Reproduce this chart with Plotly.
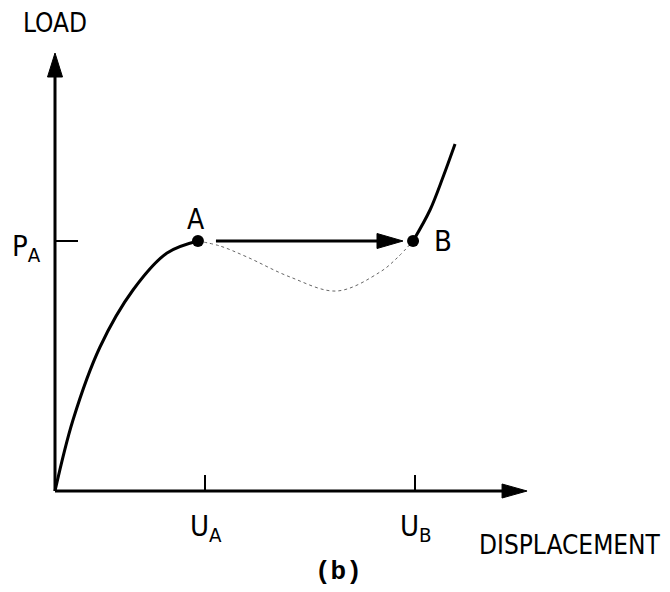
import plotly.graph_objects as go

# ---- data (u = displacement, p = load; normalized so U_A = 1, P_A = 1) ----
load_u = [0.0, 0.12, 0.30, 0.52, 0.747, 0.953]
load_p = [0.0, 0.284, 0.576, 0.804, 0.952, 1.0]

unstable_u = [0.953, 1.10, 1.28, 1.567, 1.88, 2.167, 2.28, 2.387]
unstable_p = [1.0, 0.98, 0.936, 0.856, 0.80, 0.876, 0.932, 1.0]

stiff_u = [2.387, 2.50, 2.587, 2.667]
stiff_p = [1.0, 1.124, 1.256, 1.388]

point_names = ["A", "B"]
point_u = [0.953, 2.387]
point_p = [1.0, 1.0]

tick_u = [1.0, 2.4]
tick_u_labels = ["U<sub>A</sub>", "U<sub>B</sub>"]
tick_p = [1.0]
tick_p_labels = ["P<sub>A</sub>"]

x_axis_end = 3.147
y_axis_end = 1.752
jump_start = 1.073
jump_end = 2.32

# ---- pixel scale helpers (page body has an 8px margin) ----
PAGE_OFF = 8
W, H = 670 - PAGE_OFF, 592 - PAGE_OFF
X0PX, Y0PX = 55 - PAGE_OFF, 491 - PAGE_OFF
SX, SY = 150.0, 250.0
xr = [(0 - X0PX) / SX, (W - X0PX) / SX]
yr = [(Y0PX - H) / SY, (Y0PX - 0) / SY]
def dx(px): return px / SX
def dy(px): return px / SY

FONT = "DejaVu Sans Condensed, Liberation Sans Narrow, sans-serif"
BLACK = "#000000"

fig = go.Figure()

fig.add_trace(go.Scatter(x=load_u, y=load_p, mode="lines",
                         line=dict(color=BLACK, width=3, shape="spline"),
                         hoverinfo="skip", showlegend=False))
fig.add_trace(go.Scatter(x=unstable_u, y=unstable_p, mode="lines",
                         line=dict(color="#666666", width=1, shape="spline", dash="dot"),
                         hoverinfo="skip", showlegend=False))
fig.add_trace(go.Scatter(x=stiff_u, y=stiff_p, mode="lines",
                         line=dict(color=BLACK, width=3, shape="spline"),
                         hoverinfo="skip", showlegend=False))
fig.add_trace(go.Scatter(x=point_u, y=point_p, mode="markers",
                         marker=dict(color=BLACK, size=12),
                         hoverinfo="skip", showlegend=False))

shapes = []
# axes
shapes.append(dict(type="line", x0=0, y0=0, x1=0, y1=y_axis_end - dy(20),
                   line=dict(color=BLACK, width=3)))
shapes.append(dict(type="line", x0=0, y0=0, x1=x_axis_end - dx(20), y1=0,
                   line=dict(color=BLACK, width=3)))
# axis arrowheads
shapes.append(dict(type="path",
                   path=f"M {-dx(7.5)} {y_axis_end - dy(24)} L 0 {y_axis_end} L {dx(7.5)} {y_axis_end - dy(24)} Z",
                   fillcolor=BLACK, line=dict(color=BLACK, width=1)))
shapes.append(dict(type="path",
                   path=f"M {x_axis_end - dx(25)} {-dy(7)} L {x_axis_end} 0 L {x_axis_end - dx(25)} {dy(7)} Z",
                   fillcolor=BLACK, line=dict(color=BLACK, width=1)))
# ticks on x
for u in tick_u:
    shapes.append(dict(type="line", x0=u, y0=0, x1=u, y1=dy(16),
                       line=dict(color=BLACK, width=2)))
# tick on y
for p in tick_p:
    shapes.append(dict(type="line", x0=0, y0=p, x1=dx(23), y1=p,
                       line=dict(color=BLACK, width=2)))
# jump arrow A -> B
shapes.append(dict(type="line", x0=jump_start, y0=point_p[0], x1=jump_end - dx(20), y1=point_p[0],
                   line=dict(color=BLACK, width=3)))
shapes.append(dict(type="path",
                   path=(f"M {jump_end - dx(26)} {point_p[0] - dy(7.5)} L {jump_end} {point_p[0]} "
                         f"L {jump_end - dx(26)} {point_p[0] + dy(7.5)} Z"),
                   fillcolor=BLACK, line=dict(color=BLACK, width=1)))

annotations = []
annotations.append(dict(text="LOAD", x=0, y=y_axis_end + dy(30), xref="x", yref="y",
                        showarrow=False, font=dict(family=FONT, size=26, color=BLACK)))
annotations.append(dict(text="DISPLACEMENT", x=dx(570 - 55), y=-dy(545 - 491), xref="x", yref="y",
                        showarrow=False, font=dict(family=FONT, size=26, color=BLACK)))
for u, lab in zip(tick_u, tick_u_labels):
    annotations.append(dict(text=lab, x=u + dx(1), y=-dy(37), xref="x", yref="y",
                            showarrow=False, font=dict(family=FONT, size=29, color=BLACK)))
for p, lab in zip(tick_p, tick_p_labels):
    annotations.append(dict(text=lab, x=-dx(29), y=p - dy(7), xref="x", yref="y",
                            showarrow=False, font=dict(family=FONT, size=29, color=BLACK)))
annotations.append(dict(text=point_names[0], x=point_u[0] - dx(2), y=point_p[0] + dy(22),
                        xref="x", yref="y", showarrow=False,
                        font=dict(family=FONT, size=28, color=BLACK)))
annotations.append(dict(text=point_names[1], x=point_u[1] + dx(30), y=point_p[1],
                        xref="x", yref="y", showarrow=False,
                        font=dict(family=FONT, size=29, color=BLACK)))
annotations.append(dict(text="<b>(b)</b>", x=dx(338 - 55), y=-dy(572 - 491), xref="x", yref="y",
                        showarrow=False, font=dict(family="Liberation Mono, Courier New, monospace",
                                                   size=26, color=BLACK)))

fig.update_layout(
    width=W, height=H,
    margin=dict(l=0, r=0, t=0, b=0),
    paper_bgcolor="white", plot_bgcolor="white",
    xaxis=dict(range=xr, visible=False, fixedrange=True),
    yaxis=dict(range=yr, visible=False, fixedrange=True),
    shapes=shapes, annotations=annotations,
    showlegend=False,
)

fig.write_html("out.html")
